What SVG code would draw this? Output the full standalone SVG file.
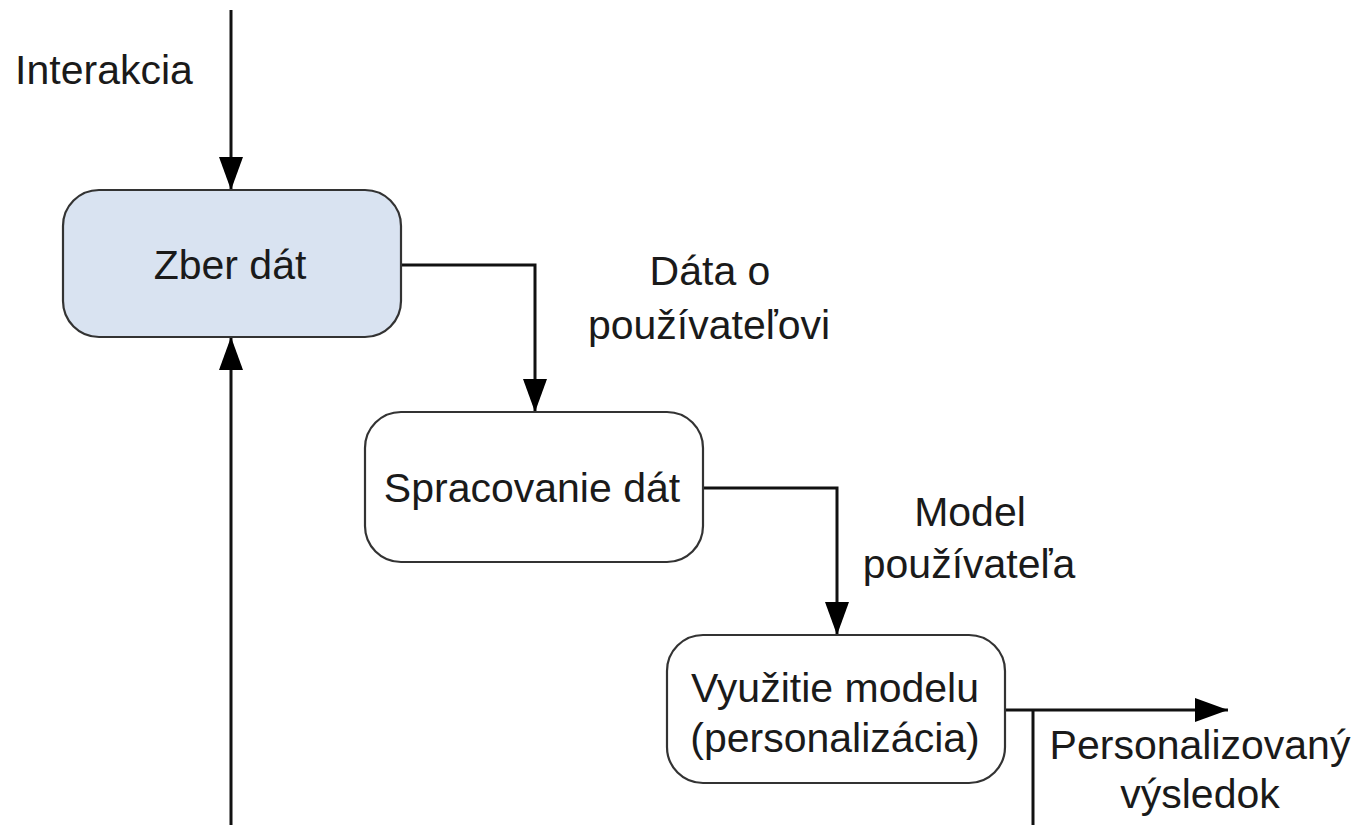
<svg xmlns="http://www.w3.org/2000/svg" width="1358" height="825" viewBox="0 0 1358 825">
<defs>
<style>
.box{stroke:#333;stroke-width:2.2;}
.t{font-family:"Liberation Sans",Arial,sans-serif;font-size:41px;fill:#1a1a1a;text-anchor:middle;}
.c{fill:none;stroke:#111;stroke-width:3;}
</style>
<marker id="ah" markerUnits="userSpaceOnUse" markerWidth="34" markerHeight="24" refX="33" refY="12" orient="auto">
<path d="M0,0 L33,12 L0,24 Z" fill="#000"/>
</marker>
</defs>
<rect width="1358" height="825" fill="#fff"/>
<g id="connectors">
<path class="c" d="M231,10 V190" marker-end="url(#ah)"/>
<path class="c" d="M231,825 V337" marker-end="url(#ah)"/>
<path class="c" d="M401,265 H535 V412" marker-end="url(#ah)"/>
<path class="c" d="M703,488 H837 V635" marker-end="url(#ah)"/>
<path class="c" d="M1005,710 H1228" marker-end="url(#ah)"/>
<path class="c" d="M1033,710 V825"/>
</g>
<g id="label-interakcia"><text class="t" x="104" y="84">Interakcia</text></g>
<g id="node-zber">
<rect class="box" x="63" y="190" width="338" height="147" rx="36" ry="36" fill="#d9e3f1"/>
<text class="t" x="230" y="279">Zber dát</text>
</g>
<g id="label-data">
<text class="t" x="710" y="285">Dáta o</text>
<text class="t" x="709" y="339">používateľovi</text>
</g>
<g id="node-spracovanie">
<rect class="box" x="365" y="412" width="338" height="150" rx="36" ry="36" fill="#fff"/>
<text class="t" x="532" y="502">Spracovanie dát</text>
</g>
<g id="label-model">
<text class="t" x="970" y="526">Model</text>
<text class="t" x="969" y="578">používateľa</text>
</g>
<g id="node-vyuzitie">
<rect class="box" x="667" y="635" width="338" height="148" rx="36" ry="36" fill="#fff"/>
<text class="t" x="835" y="702">Využitie modelu</text>
<text class="t" x="835" y="752">(personalizácia)</text>
</g>
<g id="label-vysledok">
<text class="t" x="1200" y="759">Personalizovaný</text>
<text class="t" x="1200" y="808">výsledok</text>
</g>
</svg>
